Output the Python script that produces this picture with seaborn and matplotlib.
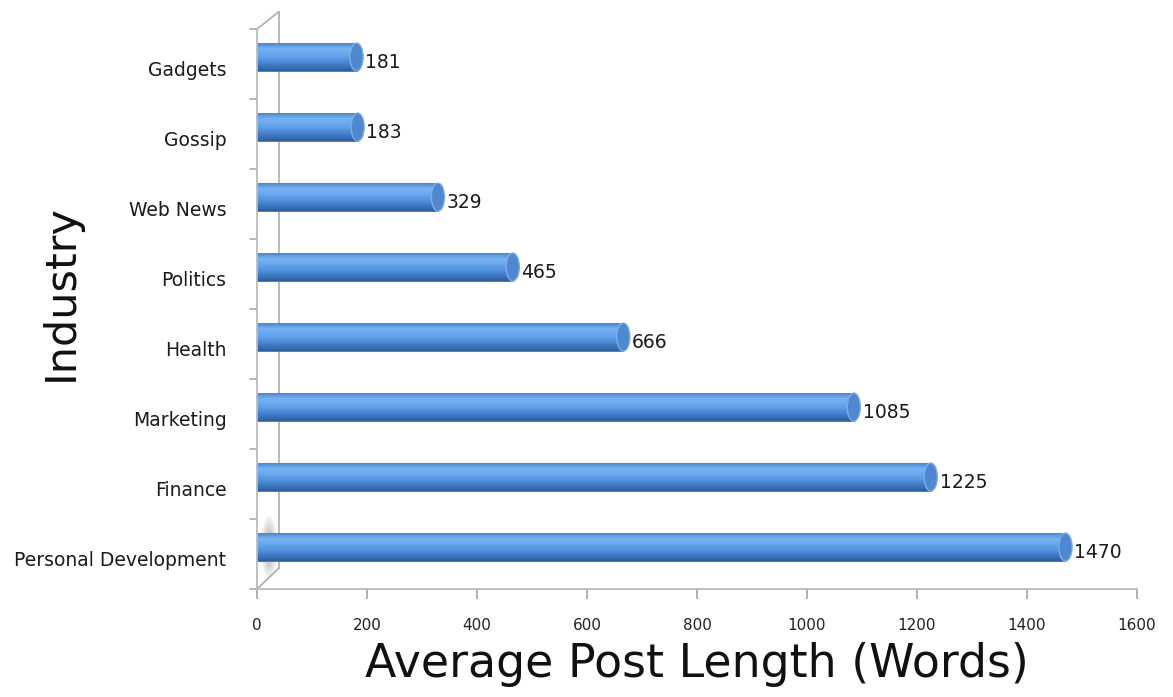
import numpy as np
import pandas as pd
import seaborn as sns
import matplotlib.pyplot as plt
from matplotlib.patches import Ellipse
from matplotlib.colors import LinearSegmentedColormap

industries = ["Gadgets", "Gossip", "Web News", "Politics", "Health",
              "Marketing", "Finance", "Personal Development"]
post_length = [181, 183, 329, 465, 666, 1085, 1225, 1470]
x_ticks = [0, 200, 400, 600, 800, 1000, 1200, 1400, 1600]

df = pd.DataFrame({"Industry": industries, "Words": post_length})

sns.set_theme(style="white")
plt.rcParams['font.family'] = ['DejaVu Sans']

fig = plt.figure(figsize=(11.73, 6.97), dpi=100)
ax = fig.add_axes([0.2191, 0.1549, 0.7502, 0.8034])

sns.barplot(data=df, y="Industry", x="Words", orient="h", color="#5a9ae6",
            width=0.4, ax=ax, edgecolor="#3a72b8", linewidth=0.6)

# cylinder shading on each bar
grad = np.linspace(0, 1, 64).reshape(-1, 1)
cmap = LinearSegmentedColormap.from_list(
    "cyl", ["#4a86d0", "#79b2f2", "#68a6ee", "#5594e0", "#3f78c2", "#2e5f9e"])
for p in ax.patches:
    x0, y0 = p.get_x(), p.get_y()
    w, h = p.get_width(), p.get_height()
    im = ax.imshow(grad, extent=[x0, x0 + w, y0 + h, y0], aspect="auto",
                   cmap=cmap, zorder=p.get_zorder() + 0.1)
    im.set_clip_path(p)
    cap = Ellipse((x0 + w, y0 + h / 2), width=24, height=h, facecolor="#4f88cf",
                  edgecolor="#7aaee8", linewidth=1.0, zorder=p.get_zorder() + 0.2)
    ax.add_patch(cap)
    ax.text(x0 + w + 16, y0 + h / 2 + 0.08, f"{int(round(w))}", va="center",
            ha="left", fontsize=13.5, color="#1a1a1a", zorder=5)

# soft shadow where the longest bar meets the wall
longest = int(np.argmax(post_length))
for k in range(6):
    ax.add_patch(Ellipse((22, longest), width=30 - 3 * k, height=0.9 - 0.08 * k,
                         facecolor="#888888", edgecolor="none", alpha=0.08, zorder=0.5))

# 3D look: bars sit a little behind the front frame
shift = 0.1
ax.set_xlim(0, 1600)
ax.set_ylim(7.5 + shift, -0.5 + shift)
ax.set_yticks([i + 0.17 for i in range(len(industries))], labels=industries)
ax.set_xticks(x_ticks)
ax.set_xticklabels([str(t) for t in x_ticks], fontsize=11, color="#222222")
ax.tick_params(axis="x", length=7, color="#aaaaaa", pad=14, bottom=True)
ax.tick_params(axis="y", length=0, pad=22, labelsize=13.5, labelcolor="#1a1a1a")

for s in ["top", "right"]:
    ax.spines[s].set_visible(False)
ax.spines["bottom"].set_color("#bbbbbb")
ax.spines["left"].set_color("#bbbbbb")
ax.spines["left"].set_linewidth(1.3)
ax.spines["bottom"].set_linewidth(1.3)

# back wall and separator ticks
wall_x = 40
top = -0.5 + shift
bottom = 7.5 + shift
ax.plot([wall_x, wall_x], [top - 0.25, bottom - 0.3], color="#b3b3b3",
        linewidth=1.3, clip_on=False, zorder=0)
ax.plot([0, wall_x], [top, top - 0.25], color="#b3b3b3", linewidth=1.3, clip_on=False)
ax.plot([0, wall_x], [bottom, bottom - 0.3], color="#b3b3b3", linewidth=1.3, clip_on=False)
for k in range(len(industries) + 1):
    yy = top + k
    ax.plot([-12, 0], [yy, yy], color="#aaaaaa", linewidth=1.2, clip_on=False)

ax.set_xlabel("Average Post Length (Words)", fontsize=33, color="#111111", va="top")
ax.xaxis.set_label_coords(0.5, -0.095)
ax.set_ylabel("Industry", fontsize=31, color="#111111")
ax.yaxis.set_label_coords(-0.199, 0.53)

fig.savefig("out.png", dpi=100)
